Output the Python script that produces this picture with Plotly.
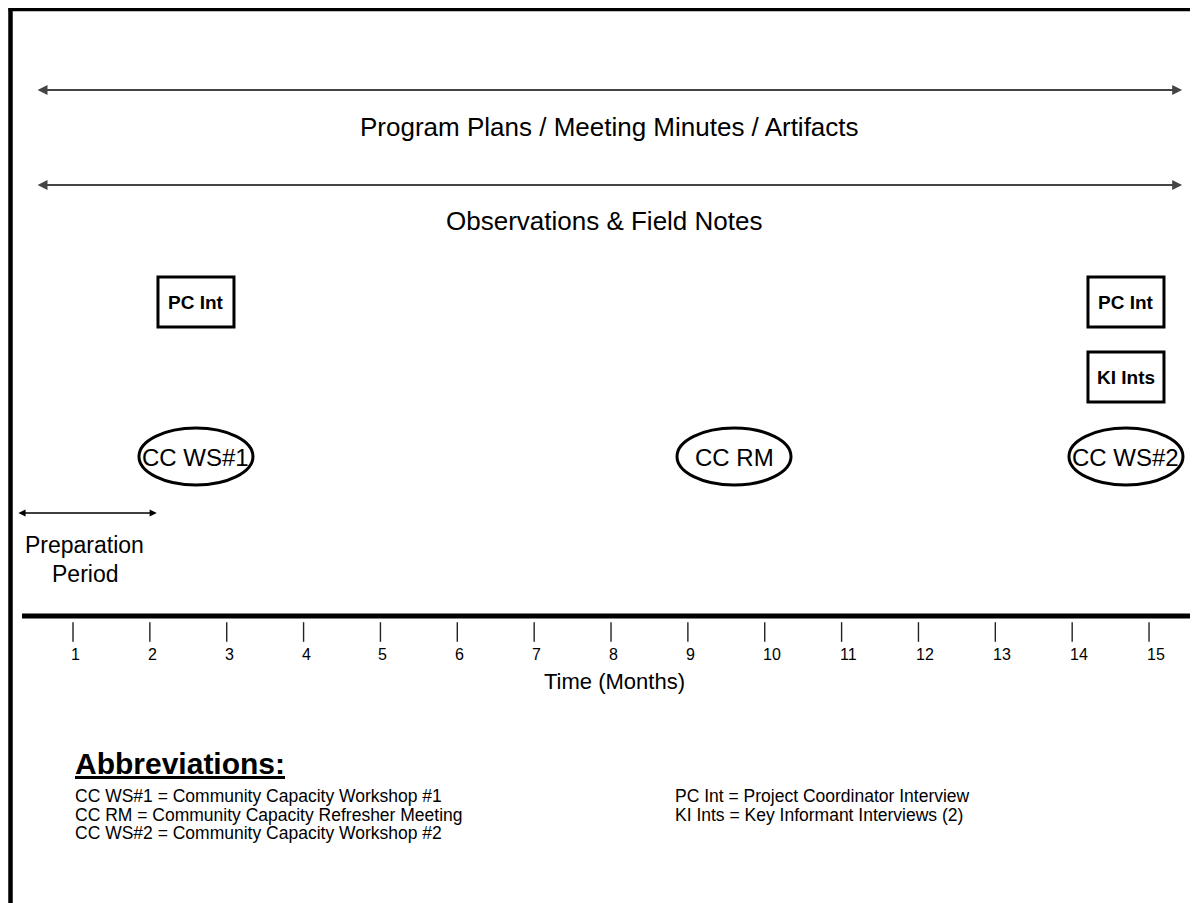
import plotly.graph_objects as go

# ---------------- data ----------------
months = [1, 2, 3, 4, 5, 6, 7, 8, 9, 10, 11, 12, 13, 14, 15]
month_labels = ["1", "2", "3", "4", "5", "6", "7", "8", "9", "10", "11", "12", "13", "14", "15"]

doc_streams = ["Program Plans / Meeting Minutes / Artifacts", "Observations & Field Notes"]
doc_start = [0.52, 0.52]
doc_end = [15.43, 15.43]

prep_label = ["Preparation", "Period"]
prep_start = 0.27
prep_end = 2.09

meetings = ["CC WS#1", "CC RM", "CC WS#2"]
meeting_month = [2.6, 9.6, 14.7]

interviews = ["PC Int", "PC Int", "KI Ints"]
interview_month = [2.6, 14.7, 14.7]
interview_row = [0, 0, 1]

abbrev_left = [
    "CC WS#1 = Community Capacity Workshop #1",
    "CC RM = Community Capacity Refresher Meeting",
    "CC WS#2 = Community Capacity Workshop #2",
]
abbrev_right = [
    "PC Int = Project Coordinator Interview",
    "KI Ints = Key Informant Interviews (2)",
]

# ---------------- layout helpers ----------------
W, H = 1198, 903          # window size
OFF = 8                   # page body margin
PX0, PXSTEP = 73.0, 76.86  # screen pixel of month 1, pixels per month


def px2m(px):
    return 1 + (px - PX0) / PXSTEP


def dm(px):
    return px / PXSTEP


FONT = "Arial, Liberation Sans, sans-serif"

fig = go.Figure()
shapes = []
annotations = []

# border (top & left)
shapes.append(dict(type="line", xref="x", yref="y", x0=px2m(8.5), x1=px2m(W + 20), y0=9, y1=9,
                   line=dict(color="black", width=4.5)))
shapes.append(dict(type="line", xref="x", yref="y", x0=px2m(10.5), x1=px2m(10.5), y0=7, y1=H + 20,
                   line=dict(color="black", width=4.5)))

# document stream arrows + labels
stream_y = [90, 185]
stream_text_y = [127, 221]
stream_text_shift = [0, -5]
for i, name in enumerate(doc_streams):
    annotations.append(dict(x=doc_end[i], y=stream_y[i], ax=doc_start[i], ay=stream_y[i],
                            xref="x", yref="y", axref="x", ayref="y", text="",
                            showarrow=True, arrowside="end+start", arrowhead=2, arrowsize=1.1,
                            arrowwidth=1.8, arrowcolor="#444444"))
    annotations.append(dict(x=(doc_start[i] + doc_end[i]) / 2, y=stream_text_y[i], xref="x", yref="y",
                            xshift=stream_text_shift[i], text=name, showarrow=False,
                            font=dict(family=FONT, size=26, color="black")))

# interview boxes
box_y = [302, 377]
for name, m, r in zip(interviews, interview_month, interview_row):
    yc = box_y[r]
    shapes.append(dict(type="rect", xref="x", yref="y", x0=m - dm(38), x1=m + dm(38),
                       y0=yc - 25, y1=yc + 25, line=dict(color="black", width=3),
                       fillcolor="white"))
    annotations.append(dict(x=m, y=yc, xref="x", yref="y", text="<b>" + name + "</b>",
                            showarrow=False, font=dict(family=FONT, size=19, color="black")))

# meeting ellipses
for name, m in zip(meetings, meeting_month):
    shapes.append(dict(type="circle", xref="x", yref="y", x0=m - dm(57), x1=m + dm(57),
                       y0=428, y1=485, line=dict(color="black", width=3)))
    annotations.append(dict(x=m, y=457, xref="x", yref="y", text=name, showarrow=False,
                            font=dict(family=FONT, size=24, color="black")))

# preparation period
annotations.append(dict(x=prep_end, y=513, ax=prep_start, ay=513, xref="x", yref="y",
                        axref="x", ayref="y", text="", showarrow=True, arrowside="end+start",
                        arrowhead=2, arrowsize=1.1, arrowwidth=1.3, arrowcolor="black"))
for j, t in enumerate(prep_label):
    annotations.append(dict(x=(prep_start + prep_end) / 2 - 0.03, y=545 + 29 * j, xref="x", yref="y",
                            text=t, showarrow=False, font=dict(family=FONT, size=23, color="black")))

# time axis line
shapes.append(dict(type="line", xref="x", yref="y", x0=px2m(22), x1=px2m(W + 20), y0=616, y1=616,
                   line=dict(color="black", width=5)))

# tick marks + labels
fig.add_trace(go.Scatter(x=months, y=[632] * len(months), mode="markers",
                         marker=dict(symbol="line-ns", size=14, line=dict(color="#222222", width=1.4)),
                         hoverinfo="skip", showlegend=False))
for m, lab in zip(months, month_labels):
    annotations.append(dict(x=m, y=654, xref="x", yref="y", text=lab, showarrow=False,
                            xanchor="left", xshift=-4, font=dict(family=FONT, size=16, color="black")))

annotations.append(dict(x=(months[0] + months[-1]) / 2 + 0.05, y=681, xref="x", yref="y",
                        text="Time (Months)", showarrow=False,
                        font=dict(family=FONT, size=22, color="black")))

# abbreviations
annotations.append(dict(x=px2m(73), y=763, xref="x", yref="y", xanchor="left",
                        text="<u><b>Abbreviations:</b></u>", showarrow=False,
                        font=dict(family=FONT, size=30, color="black")))
for k, t in enumerate(abbrev_left):
    annotations.append(dict(x=px2m(73), y=796 + 18.5 * k, xref="x", yref="y", xanchor="left",
                            text=t, showarrow=False, font=dict(family=FONT, size=17.5, color="black")))
for k, t in enumerate(abbrev_right):
    annotations.append(dict(x=px2m(673), y=796 + 18.5 * k, xref="x", yref="y", xanchor="left",
                            text=t, showarrow=False, font=dict(family=FONT, size=17.5, color="black")))

fig.update_layout(
    width=W - OFF, height=H - OFF,
    margin=dict(l=0, r=0, t=0, b=0),
    paper_bgcolor="white", plot_bgcolor="white",
    xaxis=dict(range=[px2m(OFF), px2m(W)], visible=False, fixedrange=True),
    yaxis=dict(range=[H, OFF], visible=False, fixedrange=True),
    shapes=shapes, annotations=annotations, showlegend=False,
)

fig.write_html("out.html")
